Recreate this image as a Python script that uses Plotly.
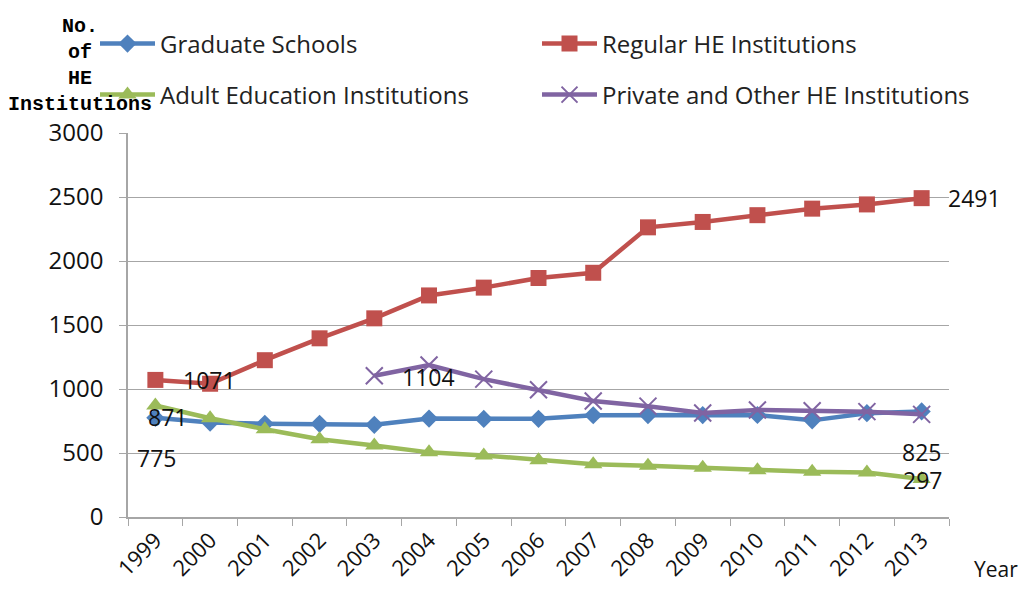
import plotly.graph_objects as go

years = ["1999", "2000", "2001", "2002", "2003", "2004", "2005", "2006",
         "2007", "2008", "2009", "2010", "2011", "2012", "2013"]
graduate_schools = [775, 738, 728, 728, 720, 769, 766, 767, 795, 796, 796, 797, 755, 811, 825]
regular_he = [1071, 1041, 1225, 1396, 1552, 1731, 1792, 1867, 1908, 2263, 2305, 2358, 2409, 2442, 2491]
adult_education = [871, 772, 686, 607, 558, 505, 481, 444, 413, 400, 384, 365, 353, 348, 297]
private_years = ["2003", "2004", "2005", "2006", "2007", "2008", "2009", "2010", "2011", "2012", "2013"]
private_other = [1104, 1187, 1077, 994, 906, 866, 812, 836, 830, 823, 802]

BLUE, RED, GREEN, PURPLE = "#4F81BD", "#C0504D", "#9BBB59", "#8064A2"
GRID = "#A6A6A6"
FONT = "Open Sans"

# the page body has an 8px margin, so the figure is drawn 8px in from the page corner;
# keep the figure small enough that the page does not scroll
OFF = 8
W, H = 1012, 578
L, T = 120, 125
pw, ph = 821, 384
R, B = W - L - pw, H - T - ph


def px(xp):
    """page x pixel -> paper x"""
    return (xp - OFF - L) / pw


def py(yp):
    """page y pixel -> paper y"""
    return (T + ph - (yp - OFF)) / ph


fig = go.Figure()
fig.add_trace(go.Scatter(x=years, y=graduate_schools, name="Graduate Schools", mode="lines+markers",
                         line=dict(color=BLUE, width=4.5),
                         marker=dict(symbol="diamond", size=14, color=BLUE), legend="legend"))
fig.add_trace(go.Scatter(x=years, y=regular_he, name="Regular HE Institutions", mode="lines+markers",
                         line=dict(color=RED, width=4.5),
                         marker=dict(symbol="square", size=16, color=RED), legend="legend2"))
fig.add_trace(go.Scatter(x=years, y=adult_education, name="Adult Education Institutions", mode="lines+markers",
                         line=dict(color=GREEN, width=4.5),
                         marker=dict(symbol="triangle-up", size=16, color=GREEN), legend="legend3"))
fig.add_trace(go.Scatter(x=private_years, y=private_other, name="Private and Other HE Institutions",
                         mode="lines+markers", line=dict(color=PURPLE, width=4.5),
                         marker=dict(symbol="x-thin", size=17, color=PURPLE,
                                     line=dict(color=PURPLE, width=2)), legend="legend4"))

# data labels (values taken from the data arrays); x as category index
labels = [
    (years.index(years[0]), regular_he[0], "left", 26, 0),
    (years.index(years[0]), adult_education[0], "center", 12, -11),
    (years.index(years[0]), graduate_schools[0], "center", 1, -40),
    (years.index(private_years[0]), private_other[0], "left", 26, -1),
    (years.index(years[-1]), regular_he[-1], "left", 24, 0),
    (years.index(years[-1]), graduate_schools[-1], "center", 0, -41),
    (years.index(years[-1]), adult_education[-1], "center", 1, -1),
]
for x, y, xa, dx, dy in labels:
    fig.add_annotation(x=x, y=y, xref="x", yref="y", text=str(y), showarrow=False,
                       xanchor=xa, yanchor="middle", xshift=dx, yshift=dy,
                       font=dict(family=FONT, size=23, color="#111111"))

fig.add_annotation(x=px(80), y=py(65), xref="paper", yref="paper",
                   text="<b>No.<br>of<br>HE<br>Institutions</b>", showarrow=False,
                   xanchor="center", yanchor="middle", align="center",
                   font=dict(family="Liberation Mono", size=20, color="#000000"))
fig.add_annotation(x=px(972), y=py(569), xref="paper", yref="paper", text="Year", showarrow=False,
                   xanchor="left", yanchor="middle",
                   font=dict(family=FONT, size=21, color="#111111"))

legend_common = dict(orientation="h", bgcolor="rgba(0,0,0,0)", xanchor="left", yanchor="middle",
                     itemwidth=55, font=dict(family=FONT, size=24, color="#222222"))
fig.update_layout(
    width=W, height=H,
    margin=dict(l=L, r=R, t=T, b=B, autoexpand=False),
    paper_bgcolor="white", plot_bgcolor="white",
    showlegend=True,
    legend=dict(x=px(95), y=py(44), **legend_common),
    legend2=dict(x=px(537), y=py(44), **legend_common),
    legend3=dict(x=px(95), y=py(95), **legend_common),
    legend4=dict(x=px(537), y=py(95), **legend_common),
    xaxis=dict(type="category", categoryorder="array", categoryarray=years,
               range=[-0.5, len(years) - 0.5], showgrid=False,
               showline=True, linecolor=GRID, linewidth=1.5,
               ticks="outside", ticklen=7, tickcolor=GRID, tickson="boundaries",
               ticklabelstandoff=0,
               tickangle=-45, tickfont=dict(family=FONT, size=22, color="#111111")),
    yaxis=dict(range=[0, 3000], dtick=500, tick0=0, showgrid=True, gridcolor=GRID, gridwidth=1,
               zeroline=False, showline=True, linecolor=GRID, linewidth=1.5,
               ticks="outside", ticklen=7, tickcolor=GRID, ticklabelstandoff=11,
               tickfont=dict(family=FONT, size=24, color="#111111")),
)

fig.write_html("out.html")
